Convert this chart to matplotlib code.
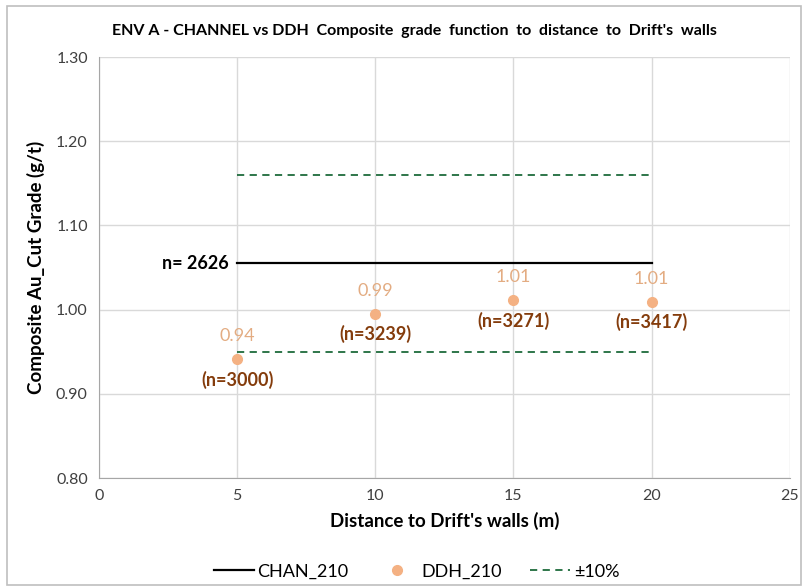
import numpy as np
import matplotlib.pyplot as plt
from matplotlib.patches import Rectangle

plt.rcParams['font.family'] = ['Lato', 'DejaVu Sans']

# data
dist = [5, 10, 15, 20]
ddh = [0.941, 0.995, 1.011, 1.009]
ddh_lbl = ['0.94', '0.99', '1.01', '1.01']
ddh_n = ['(n=3000)', '(n=3239)', '(n=3271)', '(n=3417)']
chan_x = [5, 20]
chan = [1.055, 1.055]
chan_n = 'n= 2626'
upper = [1.16, 1.16]
lower = [0.95, 0.95]

pt_col = '#F4B183'
lbl_col = '#E3AC82'
n_col = '#843C0C'
grn = '#1E6B3C'

fig = plt.figure(figsize=(8.06, 5.88), dpi=100)
fig.patches.append(Rectangle((0.009, 0.005), 0.985, 0.985, transform=fig.transFigure,
                             fill=False, edgecolor='#BFBFBF', lw=1.2))
ax = fig.add_axes([0.1228, 0.187, 0.857, 0.716])

ax.plot(chan_x, chan, color='black', lw=1.6, label='CHAN_210')
ax.plot(dist, ddh, 'o', color=pt_col, ms=7, ls='none', label='DDH_210')
ax.plot(chan_x, upper, color=grn, lw=1.3, ls=(0, (4, 3)), label='±10%')
ax.plot(chan_x, lower, color=grn, lw=1.3, ls=(0, (4, 3)))

for x, y, l, n in zip(dist, ddh, ddh_lbl, ddh_n):
    ax.annotate(l, (x, y), xytext=(0, 11), textcoords='offset points',
                ha='center', va='bottom', color=lbl_col, fontsize=13)
    ax.annotate(n, (x, y), xytext=(0, -8), textcoords='offset points',
                ha='center', va='top', color=n_col, fontsize=13, fontweight='bold')
ax.annotate(chan_n, (chan_x[0], chan[0]), xytext=(-6, 0), textcoords='offset points',
            ha='right', va='center', color='black', fontsize=13, fontweight='bold')

ax.set_xlim(0, 25)
ax.set_ylim(0.8, 1.3)
ax.set_xticks(np.arange(0, 26, 5))
ax.set_yticks(np.arange(0.8, 1.31, 0.1))
ax.yaxis.set_major_formatter(plt.FormatStrFormatter('%.2f'))
ax.grid(True, color='#D9D9D9', lw=1)
ax.set_axisbelow(True)
for s in ['top', 'right']:
    ax.spines[s].set_visible(False)
for s in ['left', 'bottom']:
    ax.spines[s].set_color('#A6A6A6')
ax.tick_params(length=0, labelsize=11.5, colors='#404040', pad=8)

ax.set_xlabel("Distance to Drift's walls (m)", fontsize=13.5, fontweight='bold', labelpad=6)
ax.set_ylabel('Composite Au_Cut Grade (g/t)', fontsize=13.5, fontweight='bold', labelpad=8)
fig.text(0.514, 0.948, "ENV A - CHANNEL vs DDH  Composite  grade  function  to  distance  to  Drift's  walls",
         fontsize=11.5, fontweight='bold', ha='center', va='center')

ax.legend(loc='upper center', bbox_to_anchor=(0.46, -0.165), ncol=3, frameon=False,
          fontsize=13, handlelength=2.2, columnspacing=1.6, handletextpad=0.2)

fig.savefig('out.png', dpi=100)
